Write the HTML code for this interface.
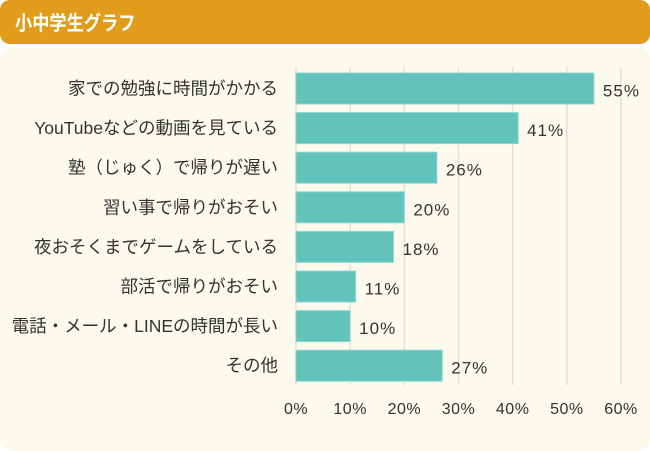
<!DOCTYPE html>
<html><head><meta charset="utf-8"><style>
body{margin:0;background:#fff;font-family:"Liberation Sans","Noto Sans CJK JP",sans-serif;}
#wrap{position:relative;width:650px;height:451px;overflow:hidden;background:#fff}
#hdr{position:absolute;left:0;top:0;width:650px;height:44px;background:#e09c1a;border-radius:10px}
#hdr span{position:absolute;left:15px;top:7px;color:#fff;font-weight:bold;font-size:20px;transform:scaleX(0.86);transform-origin:left center;white-space:nowrap}
#panel{position:absolute;left:0;top:47px;width:650px;height:404px;background:#fcfaec;border-radius:12px}
svg{position:absolute;left:0;top:0}
</style></head><body>
<div id="wrap">
<div id="hdr"><span>小中学生グラフ</span></div>
<div id="panel"></div>
<svg id="chart" width="650" height="451"></svg>
</div>
<script>
const categories=["家での勉強に時間がかかる","YouTubeなどの動画を見ている","塾（じゅく）で帰りが遅い","習い事で帰りがおそい","夜おそくまでゲームをしている","部活で帰りがおそい","電話・メール・LINEの時間が長い","その他"];
const values=[55,41,26,20,18,11,10,27];
const ticks=[0,10,20,30,40,50,60];
const NS="http://www.w3.org/2000/svg";
const svg=document.getElementById('chart');
const x0=296,x1=621,xmax=60;
const xs=v=>x0+(x1-x0)*v/xmax;
const rowTop=73,pitch=39.6,bh=31;
const ys=i=>rowTop+i*pitch;
function mk(t,a){const e=document.createElementNS(NS,t);for(const k in a)e.setAttribute(k,a[k]);svg.appendChild(e);return e;}
ticks.forEach(t=>{
 const l=mk('line',{x1:xs(t),x2:xs(t),y1:67,y2:385,stroke:'#e2e0d8','stroke-width':1.5});
 
 
 const tx=mk('text',{x:xs(t),y:414,'text-anchor':'middle','font-size':16,'letter-spacing':0.5,fill:'#333'});
 tx.textContent=t+'%';
 
 
});
categories.forEach((c,i)=>{
 const y=ys(i);
 const r=mk('rect',{x:x0,y:y,width:xs(values[i])-x0,height:bh,fill:'#62c2bc',stroke:'#8fd6d1','stroke-width':1});
 
 
 const lb=mk('text',{x:278,y:y+bh/2+6,'text-anchor':'end','font-size':17.5,fill:'#333'});
 lb.textContent=c;
 
 
 const v=mk('text',{x:xs(values[i])+9,y:y+bh/2+8,'font-size':17,'letter-spacing':1,fill:'#333'});
 v.textContent=values[i]+'%';
 
 
});
</script>
</body></html>
